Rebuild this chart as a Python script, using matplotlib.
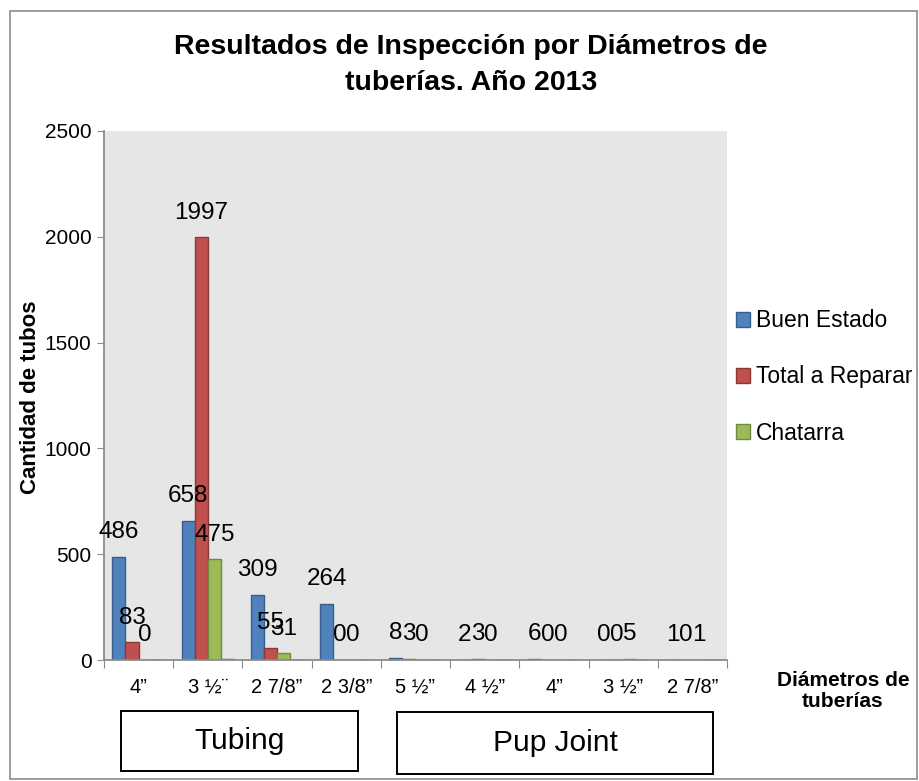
import numpy as np
import matplotlib.pyplot as plt
import matplotlib.transforms as mtransforms
from matplotlib.patches import Rectangle

plt.rcParams['font.family'] = ['Liberation Sans', 'DejaVu Sans']

categories = ['4”', '3 ½¨', '2 7/8”', '2 3/8”', '5 ½”', '4 ½”', '4”', '3 ½”', '2 7/8”']
buen_estado = [486, 658, 309, 264, 8, 2, 6, 0, 1]
total_reparar = [83, 1997, 55, 0, 3, 3, 0, 0, 0]
chatarra = [0, 475, 31, 0, 0, 0, 0, 5, 1]
otros = [0, 4, 0, 0, 0, 0, 0, 2, 0]   # tiny unlabeled fourth series seen in the picture
series_names = ['Buen Estado', 'Total a Reparar', 'Chatarra']
groups = ['Tubing', 'Pup Joint']

colors = ['#4F81BD', '#C0504D', '#9BBB59', '#8064A2']
edges = ['#385D8A', '#8C3836', '#71893F', '#5C4776']

fig = plt.figure(figsize=(9.2, 7.81), dpi=100)
W, H = 920, 781

# outer border
fig.add_artist(Rectangle((10 / W, 2 / H), 907 / W, 1 - 13 / H, transform=fig.transFigure,
                         fill=False, edgecolor='#8C8C8C', linewidth=1.2))

ax = fig.add_axes([104 / W, 1 - 660 / H, 623 / W, 529 / H])
ax.set_facecolor('#E6E6E6')

x = np.arange(len(categories))
w = 0.19
all_series = [buen_estado, total_reparar, chatarra, otros]
for i, vals in enumerate(all_series):
    pos = x + (i - 1.5) * w
    label = series_names[i] if i < 3 else None
    ax.bar(pos, vals, w, color=colors[i], edgecolor=edges[i], linewidth=1.0, label=label)
    if i < 3:
        for xp, v in zip(pos, vals):
            ax.annotate(str(v), (xp, v), xytext=(0, 10), textcoords='offset points',
                        ha='center', va='bottom', fontsize=17.5)

ax.set_xlim(-0.5, len(categories) - 0.5)
ax.set_ylim(0, 2500)
ax.set_yticks(np.arange(0, 2501, 500))
ax.set_xticks(np.arange(-0.5, len(categories), 1.0))
ax.set_xticklabels([])
ax.tick_params(axis='x', length=6, color='#8C8C8C', direction='out')
ax.tick_params(axis='y', length=5, color='#8C8C8C', labelsize=15, pad=4)
trans = mtransforms.blended_transform_factory(ax.transData, ax.transAxes)
for lbl, xp in zip(categories, x):
    ax.text(xp, -0.052, lbl, ha='center', va='center', fontsize=14.5, transform=trans)
for s in ['top', 'right']:
    ax.spines[s].set_visible(False)
for s in ['left', 'bottom']:
    ax.spines[s].set_color('#8C8C8C')
    ax.spines[s].set_linewidth(1.3)

fig.text(31 / W, 1 - 397 / H, 'Cantidad de tubos', rotation=90, ha='center', va='center',
         fontsize=16, fontweight='bold')

fig.text(471 / W, 1 - 65 / H, 'Resultados de Inspección por Diámetros de\ntuberías. Año 2013',
         ha='center', va='center', fontsize=20.5, fontweight='bold', linespacing=1.45)

fig.text(843 / W, 1 - 691 / H, 'Diámetros de\ntuberías', ha='center', va='center',
         fontsize=15, fontweight='bold', linespacing=1.15)

# group boxes under the axis
box_specs = [(121, 711, 237, 60), (397, 712, 316, 62)]
for (bx, by, bw, bh), name in zip(box_specs, groups):
    fig.add_artist(Rectangle((bx / W, 1 - (by + bh) / H), bw / W, bh / H,
                             transform=fig.transFigure, fill=False, edgecolor='black', linewidth=1.4))
    fig.text((bx + bw / 2) / W, 1 - (by + bh / 2) / H, name, ha='center', va='center', fontsize=21.5)

fig.legend(loc='center left', bbox_to_anchor=(736 / W, 1 - 377 / H), frameon=False,
           fontsize=16.5, handlelength=0.62, handleheight=0.62, handletextpad=0.25,
           labelspacing=1.45, borderaxespad=0, borderpad=0)

fig.savefig('out.png', dpi=100)
